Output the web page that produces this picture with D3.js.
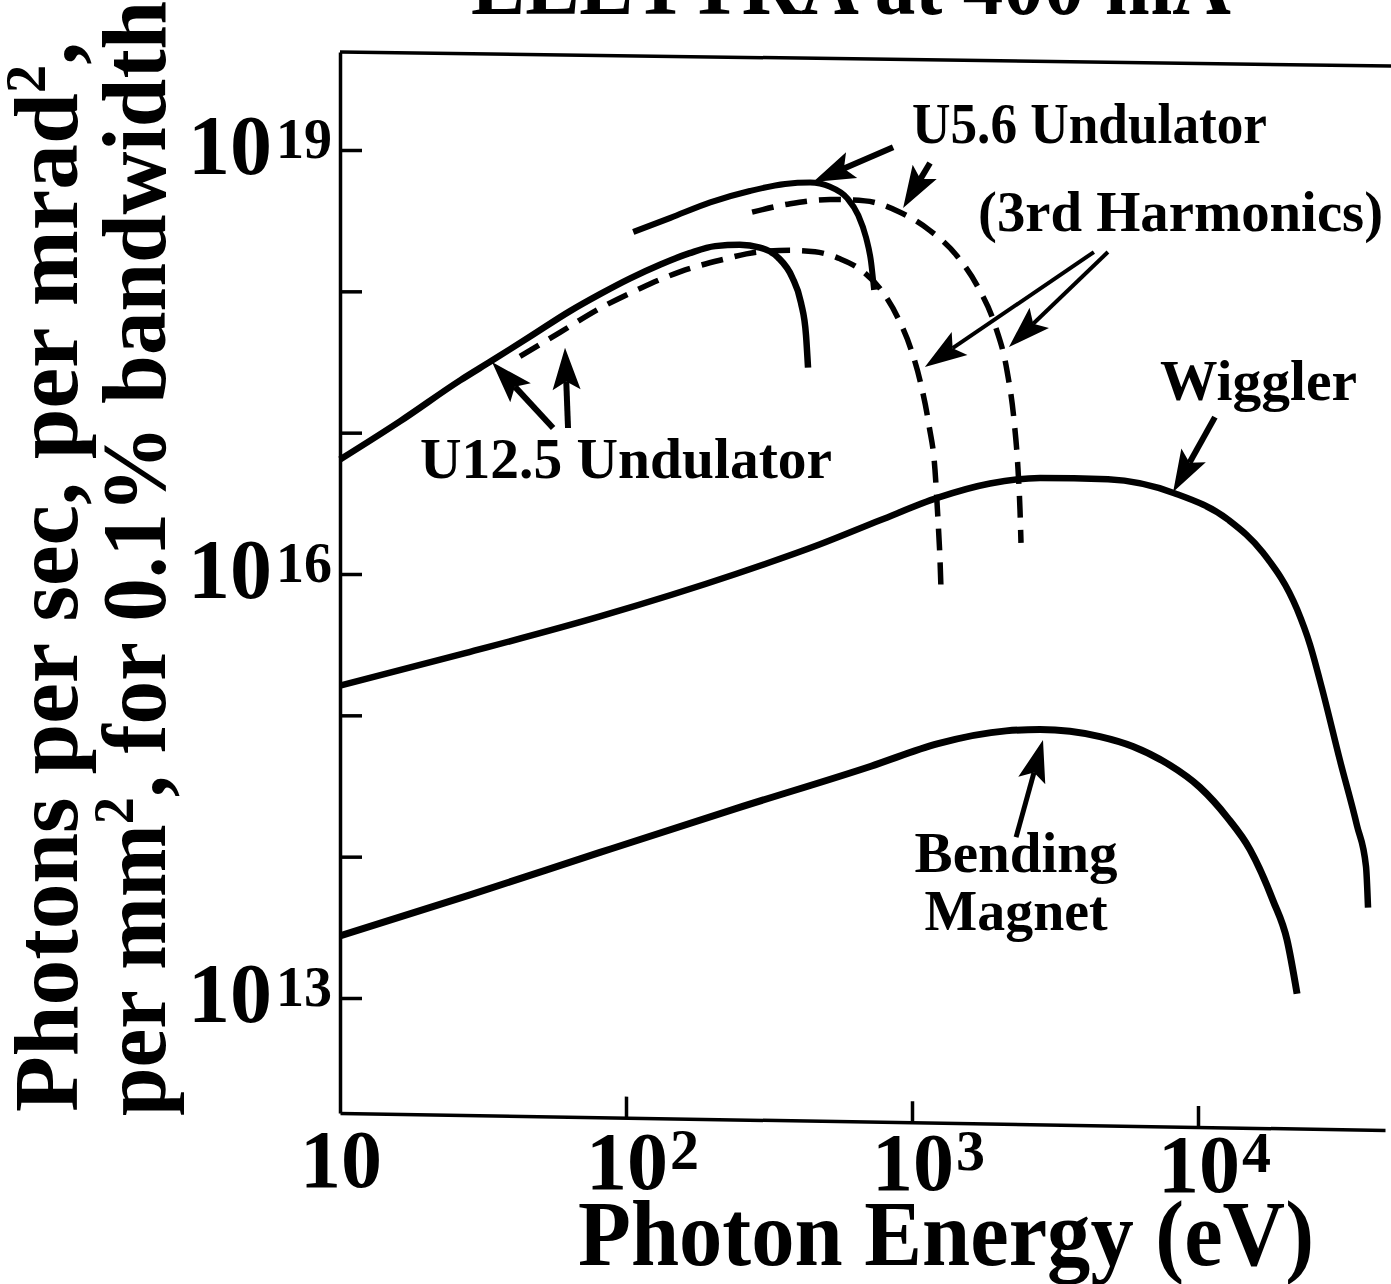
<!DOCTYPE html>
<html lang="en">
<head>
<meta charset="UTF-8">
<title>ELETTRA at 400 mA</title>
<script src="https://d3js.org/d3.v7.min.js"></script>
<style>
  body { margin: 0; background: #fff; }
  svg { display: block; }
  text { font-family: "Liberation Serif", "Times New Roman", serif; font-weight: bold; fill: #000; }
</style>
</head>
<body>
<svg id="chart" width="1391" height="1284"></svg>
<script>
// [photon energy in eV, log10 brightness]
const u125Fund = [[10, 16.81], [16.2, 17.08], [26.3, 17.37], [34.0, 17.51], [46.2, 17.68], [63.7, 17.86],
  [81.1, 17.98], [103, 18.09], [132, 18.19], [167, 18.27], [205, 18.32], [250, 18.33], [294, 18.31],
  [340, 18.24], [381, 18.10], [409, 17.92], [426, 17.69], [433, 17.46]];
const u125Third = [[42.6, 17.54], [58.8, 17.71], [81.1, 17.88], [112, 18.02], [155, 18.14], [213, 18.22],
  [294, 18.28], [375, 18.29], [458, 18.28], [560, 18.23], [674, 18.14], [786, 18.00], [894, 17.81],
  [992, 17.59], [1075, 17.34], [1147, 17.05], [1203, 16.74], [1233, 16.38], [1253, 16.10], [1263, 15.89]];
const u56Fund = [[106, 18.42], [143, 18.52], [197, 18.63], [271, 18.71], [360, 18.76], [440, 18.77],
  [517, 18.74], [593, 18.66], [648, 18.54], [691, 18.38], [719, 18.21], [737, 18.01]];
const u56Third = [[276, 18.56], [375, 18.62], [517, 18.65], [685, 18.64], [908, 18.56], [1156, 18.43],
  [1437, 18.25], [1701, 18.03], [1951, 17.76], [2148, 17.44], [2273, 17.09], [2348, 16.74],
  [2386, 16.45], [2405, 16.22]];
const wiggler = [[10, 15.21], [27.4, 15.44], [81.1, 15.70], [242, 16.00], [477, 16.21], [773, 16.38],
  [1233, 16.54], [1874, 16.64], [2803, 16.68], [4845, 16.67], [8312, 16.57], [12835, 16.38],
  [16883, 16.15], [22200, 15.75], [24640, 15.50], [27140, 15.19], [31370, 14.68], [35960, 14.22],
  [38680, 13.93], [39310, 13.64]];
const bending = [[10, 13.44], [28.5, 13.73], [81.1, 14.03], [242, 14.34], [719, 14.64], [1233, 14.80],
  [2132, 14.89], [2803, 14.90], [4542, 14.85], [5924, 14.78], [7790, 14.66], [10160, 14.49],
  [12630, 14.28], [15200, 14.05], [18290, 13.69], [20480, 13.41], [22200, 13.03]];

const energyTicks = [100, 1000, 10000];
const energyTickLabels = [[10, "10", ""], [100, "10", "2"], [1000, "10", "3"], [10000, "10", "4"]];
const brightnessTicks = [13, 14, 15, 16, 17, 18, 19];
const brightnessLabels = [13, 16, 19];

// annotations in data units: [eV, log10 brightness]
const labels = [
  {text: "U5.6 Undulator", e: 1000, b: 19.05, len: 355},
  {text: "(3rd Harmonics)", e: 1702, b: 18.43, len: 405},
  {text: "Wiggler", e: 7362, b: 17.23, len: 197},
  {text: "U12.5 Undulator", e: 19.05, b: 16.68, len: 412}
];
const bendingLabel = [{text: "Bending", e: 2312, b: 13.89, len: 203}, {text: "Magnet", e: 2312, b: 13.48, len: 183}];
const arrows = [
  [859, 19.02, 451, 18.774, 6], [1156, 18.908, 931, 18.59, 6],
  [4325, 18.278, 1109, 17.464, 4], [4842, 18.278, 2183, 17.606, 4],
  [11460, 17.11, 8185, 16.58, 6],
  [55.6, 17.033, 34.0, 17.5, 6], [62.7, 17.033, 61.2, 17.6, 6],
  [2312, 14.138, 2871, 14.825, 5]
];

const svg = d3.select("#chart");
const plotLeft = 340, plotRight = 1385, plotTop = 52, plotBottom = 1113;

const x = d3.scaleLog().domain([10, 1e4]).range([340, 1198]);
x.domain([10, x.invert(plotRight)]).range([plotLeft, plotRight]);
const y = d3.scaleLog().domain([1e13, 1e19]).range([998, 150]);
y.domain([y.invert(plotBottom), y.invert(plotTop)]).range([plotBottom, plotTop]);

const b10 = v => Math.pow(10, v);

// title (cut off at the top in the original)
svg.append("text")
  .attr("x", 471).attr("y", 14)
  .attr("font-size", 92)
  .attr("textLength", 760).attr("lengthAdjust", "spacingAndGlyphs")
  .text("ELETTRA at 400 mA");

// frame top line, slightly tilted like the scan
svg.append("line")
  .attr("x1", plotLeft).attr("y1", plotTop).attr("x2", 1391).attr("y2", plotTop + 14)
  .attr("stroke", "#000").attr("stroke-width", 3.5);

// y axis
svg.append("g")
  .attr("transform", `translate(${plotLeft},0)`)
  .call(d3.axisLeft(y).tickValues(brightnessTicks.map(b10)).tickSize(-22).tickSizeOuter(0).tickFormat(""))
  .call(g => g.selectAll("path,line").attr("stroke", "#000").attr("stroke-width", 3.5));

brightnessLabels.forEach(e => {
  const t = svg.append("text").attr("x", 188).attr("y", y(b10(e)) + 24)
    .attr("font-size", 84).attr("text-anchor", "start");
  t.append("tspan").text("10");
  t.append("tspan").attr("dx", 4).attr("dy", -16).attr("font-size", 56).text(e);
});

// x axis (tilted a little, like the scanned original)
svg.append("g")
  .attr("transform", `translate(${plotLeft},${plotBottom}) skewY(0.93) translate(${-plotLeft},0)`)
  .call(d3.axisBottom(x).tickValues(energyTicks).tickSize(-21).tickSizeOuter(0).tickFormat(""))
  .call(g => g.selectAll("path,line").attr("stroke", "#000").attr("stroke-width", 3.5));

energyTickLabels.forEach(([v, base, sup]) => {
  const t = svg.append("text").attr("x", x(v) - 40).attr("y", 1187 + (x(v) - plotLeft) * 0.006)
    .attr("font-size", 82).attr("text-anchor", "start");
  t.append("tspan").text(base);
  if (sup) t.append("tspan").attr("dx", 2).attr("dy", -20).attr("font-size", 58).text(sup);
});

svg.append("text")
  .attr("x", 578).attr("y", 1265)
  .attr("font-size", 94)
  .attr("textLength", 736).attr("lengthAdjust", "spacingAndGlyphs")
  .text("Photon Energy (eV)");

// y title, two rotated lines
function yTitle(parts, bx, startY, len) {
  const t = svg.append("text")
    .attr("transform", "rotate(-90)")
    .attr("x", -startY).attr("y", bx)
    .attr("font-size", 90)
    .attr("textLength", len).attr("lengthAdjust", "spacingAndGlyphs");
  parts.forEach(p => {
    if (p.sup) {
      t.append("tspan").attr("dy", -32).attr("font-size", 56).text(p.sup);
      t.append("tspan").attr("dy", 32).text(p.after);
    } else t.append("tspan").text(p.txt);
  });
}
yTitle([{txt: "Photons per sec, per mrad"}, {sup: "2", after: ","}], 77, 1112, 1070);
yTitle([{txt: "per mm"}, {sup: "2", after: ", for 0.1% bandwidth"}], 165, 1116, 1115);

// curves
const line = d3.line()
  .x(d => x(d[0]))
  .y(d => y(b10(d[1])))
  .curve(d3.curveMonotoneX);

const curves = [
  {data: u125Fund, dash: null, w: 6.5},
  {data: u125Third, dash: "22,12", w: 5.5},
  {data: u56Fund, dash: null, w: 6},
  {data: u56Third, dash: "22,12", w: 5.5},
  {data: wiggler, dash: null, w: 6.5},
  {data: bending, dash: null, w: 7}
];
svg.selectAll("path.curve")
  .data(curves)
  .join("path")
  .attr("class", "curve")
  .attr("d", d => line(d.data))
  .attr("fill", "none")
  .attr("stroke", "#000")
  .attr("stroke-width", d => d.w)
  .attr("stroke-linecap", "butt")
  .attr("stroke-dasharray", d => d.dash);

// arrows
arrows.forEach(([e1, v1, e2, v2, w]) => {
  const x1 = x(e1), y1 = y(b10(v1)), x2 = x(e2), y2 = y(b10(v2));
  const a = Math.atan2(y2 - y1, x2 - x1);
  const len = 42, half = 14;
  const bx = x2 - len * Math.cos(a), by = y2 - len * Math.sin(a);
  const nx = x2 - len * 0.8 * Math.cos(a), ny = y2 - len * 0.8 * Math.sin(a);
  const px = -Math.sin(a) * half, py = Math.cos(a) * half;
  svg.append("line")
    .attr("x1", x1).attr("y1", y1).attr("x2", nx).attr("y2", ny)
    .attr("stroke", "#000").attr("stroke-width", w);
  svg.append("polygon")
    .attr("points", [[x2, y2], [bx + px, by + py], [nx, ny], [bx - px, by - py]].map(p => p.join(",")).join(" "))
    .attr("fill", "#000");
});

// labels
labels.forEach(l => {
  svg.append("text")
    .attr("x", x(l.e)).attr("y", y(b10(l.b)))
    .attr("font-size", 56)
    .attr("textLength", l.len).attr("lengthAdjust", "spacingAndGlyphs")
    .text(l.text);
});
bendingLabel.forEach(l => {
  svg.append("text")
    .attr("x", x(l.e) - l.len / 2).attr("y", y(b10(l.b)))
    .attr("font-size", 56)
    .attr("textLength", l.len).attr("lengthAdjust", "spacingAndGlyphs")
    .text(l.text);
});
</script>
</body>
</html>
